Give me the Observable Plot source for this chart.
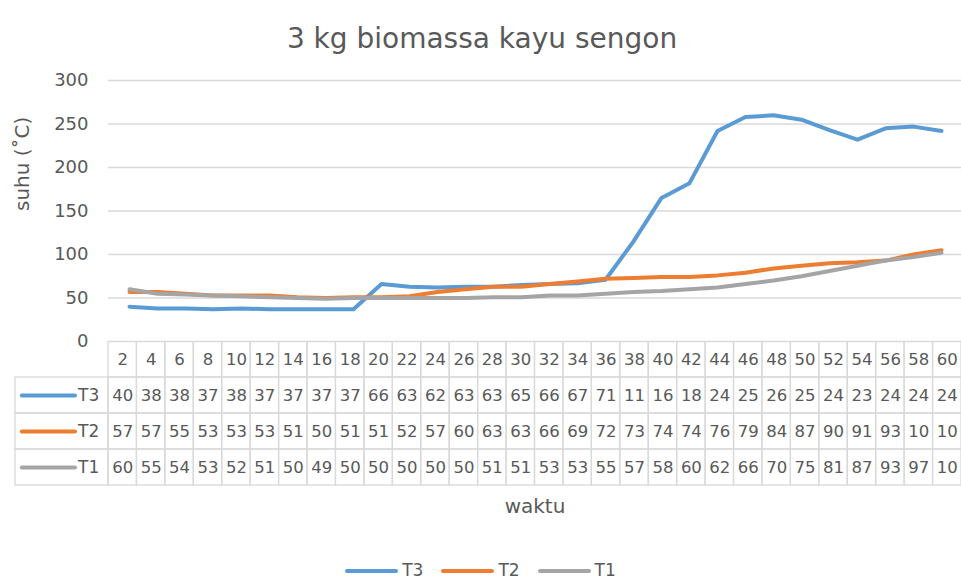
<!DOCTYPE html>
<html>
<head>
<meta charset="utf-8">
<script src="https://cdn.jsdelivr.net/npm/d3@7"></script>
<script src="https://cdn.jsdelivr.net/npm/@observablehq/plot@0.6"></script>
<style>
  html, body { margin: 0; padding: 0; background: #fff; }
  #chart { position: relative; width: 961px; height: 581px; overflow: hidden; font-family: "DejaVu Sans", sans-serif; color: #595959; background: #fff; }
  #chart svg { display: block; }
  #chart svg.table { margin-top: -11px; }
  #legend { position: absolute; left: 0; top: 561px; width: 961px; height: 19px; line-height: 19px; display: flex; justify-content: center; align-items: center; font-size: 17px; }
  .item { display: flex; align-items: center; margin: 0 9px; line-height: 19px; }
  .sw { display: inline-block; width: 53px; height: 4px; border-radius: 2px; margin-right: 4px; }
</style>
</head>
<body>
<div id="chart"></div>
<script>
// ---- data ----
const title = "3 kg biomassa kayu sengon";
const yLabel = "suhu (˚C)";
const xLabel = "waktu";
const categories = [2,4,6,8,10,12,14,16,18,20,22,24,26,28,30,32,34,36,38,40,42,44,46,48,50,52,54,56,58,60];
const seriesNames = ["T3", "T2", "T1"];
const t3 = [40,38,38,37,38,37,37,37,37,66,63,62,63,63,65,66,67,71,115,165,182,242,258,260,255,243,232,245,247,242];
const t2 = [57,57,55,53,53,53,51,50,51,51,52,57,60,63,63,66,69,72,73,74,74,76,79,84,87,90,91,93,100,105];
const t1 = [60,55,54,53,52,51,50,49,50,50,50,50,50,51,51,53,53,55,57,58,60,62,66,70,75,81,87,93,97,102];
const yTicks = [0,50,100,150,200,250,300];
const seriesColors = ["#5b9bd5", "#ed7d31", "#a5a5a5"];

// ---- derived tables ----
const seriesValues = [t3, t2, t1];
const points = seriesNames.flatMap((s, si) =>
  categories.map((c, i) => ({series: s, cat: c, value: seriesValues[si][i]})));

// table cells (column units: one column per category, key column to the left)
const keyCols = 3.27;
const cells = categories.map((c, i) => ({x1: i, x2: i + 1, y1: 0, y2: 1, label: String(c)}));
seriesNames.forEach((s, si) => {
  const r = si + 1;
  cells.push({x1: -keyCols, x2: 0, y1: r, y2: r + 1, label: ""});
  seriesValues[si].forEach((v, i) => {
    // narrow Excel data-table cells clip values to two characters
    cells.push({x1: i, x2: i + 1, y1: r, y2: r + 1, label: String(v).slice(0, 2)});
  });
});
const keyRows = seriesNames.map((s, si) => ({series: s, row: si + 1.5}));

const textColor = "#595959";
const gridColor = "#d9d9d9";
const font = "DejaVu Sans";

const lineChart = Plot.plot({
  width: 961, height: 352,
  marginTop: 80, marginBottom: 11, marginLeft: 108, marginRight: 0,
  style: {fontFamily: font, fontSize: "18px", color: textColor, background: "white"},
  x: {type: "band", domain: categories, padding: 0, axis: null},
  y: {domain: [0, 300], axis: null},
  color: {domain: seriesNames, range: seriesColors},
  marks: [
    Plot.ruleY(yTicks, {stroke: gridColor, strokeWidth: 1.3}),
    Plot.axisY({ticks: yTicks, tickSize: 0, tickPadding: 20, fontSize: 18, label: null, fill: textColor}),
    Plot.line(points, {x: "cat", y: "value", z: "series", stroke: "series", strokeWidth: 4, strokeLinejoin: "round", strokeLinecap: "round"}),
    Plot.text([title], {frameAnchor: "top", dy: -52, dx: -53, fontSize: 28, fill: textColor}),
    Plot.text([yLabel], {frameAnchor: "left", dx: -86, rotate: -90, fontSize: 20, fill: textColor})
  ]
});

const dataTable = Plot.plot({
  width: 961, height: 200,
  marginTop: 0, marginBottom: 56, marginLeft: 15, marginRight: 0,
  style: {fontFamily: font, fontSize: "16.5px", color: textColor, background: "transparent"},
  x: {domain: [-keyCols, categories.length], axis: null},
  y: {domain: [0, 4], reverse: true, axis: null},
  color: {domain: seriesNames, range: seriesColors},
  marks: [
    Plot.rect(cells, {x1: "x1", x2: "x2", y1: "y1", y2: "y2", fill: "none", stroke: gridColor, strokeWidth: 1.3}),
    Plot.text(cells, {x: d => (d.x1 + d.x2) / 2, y: d => (d.y1 + d.y2) / 2, text: "label", fontSize: 16.5, fill: textColor}),
    Plot.ruleY(keyRows, {y: "row", x1: -3.03, x2: -1.16, stroke: "series", strokeWidth: 4, strokeLinecap: "round"}),
    Plot.text(keyRows, {x: -1.07, y: "row", text: "series", textAnchor: "start", fontSize: 17, fill: textColor}),
    Plot.text([xLabel], {x: categories.length / 2, y: 4, dy: 21, fontSize: 20, fill: textColor})
  ]
});
dataTable.classList.add("table");

const chart = document.getElementById("chart");
chart.appendChild(lineChart);
chart.appendChild(dataTable);

const legend = document.createElement("div");
legend.id = "legend";
seriesNames.forEach((s, i) => {
  const item = document.createElement("span");
  item.className = "item";
  const sw = document.createElement("span");
  sw.className = "sw";
  sw.style.background = seriesColors[i];
  item.appendChild(sw);
  item.appendChild(document.createTextNode(s));
  legend.appendChild(item);
});
chart.appendChild(legend);
</script>
</body>
</html>
